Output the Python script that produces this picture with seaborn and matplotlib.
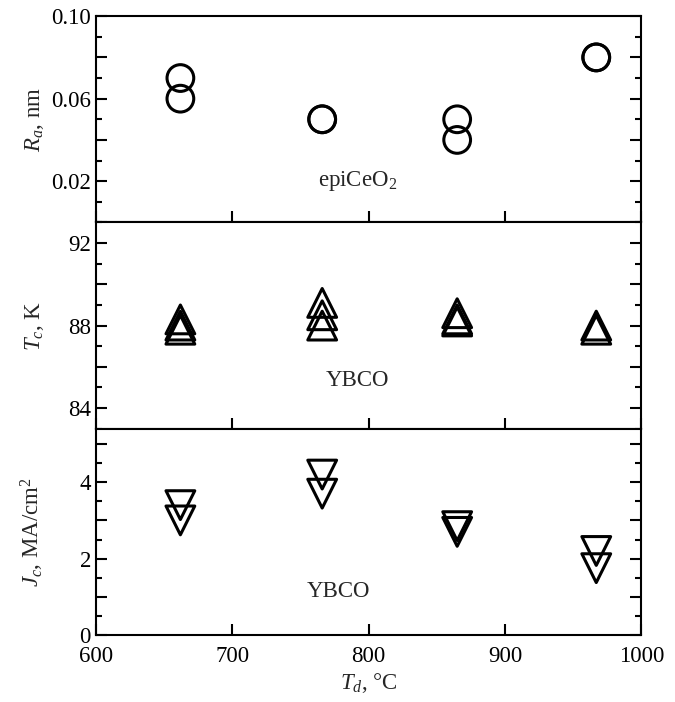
import numpy as np
import pandas as pd
import matplotlib
matplotlib.use('Agg')
import matplotlib.pyplot as plt
import seaborn as sns
from matplotlib.ticker import MultipleLocator, FuncFormatter

# Data
td_ra = [662, 662, 766, 766, 865, 865, 967, 967]
ra = [0.070, 0.060, 0.050, 0.050, 0.050, 0.040, 0.080, 0.080]

td_tc = [662, 662, 662, 766, 766, 766, 865, 865, 865, 967, 967]
tc = [88.3, 88.0, 87.8, 89.1, 88.5, 88.0, 88.6, 88.3, 88.2, 88.0, 87.8]

td_jc = [662, 662, 766, 766, 865, 865, 967, 967]
jc = [3.4, 3.0, 4.2, 3.7, 2.85, 2.7, 2.2, 1.75]

sns.set_style('ticks')
plt.rcParams['font.family'] = ['Liberation Serif', 'DejaVu Serif']
plt.rcParams['mathtext.fontset'] = 'custom'
plt.rcParams['mathtext.rm'] = 'Liberation Serif'
plt.rcParams['mathtext.it'] = 'Liberation Serif:italic'
plt.rcParams['font.size'] = 16.5

fig, axes = plt.subplots(3, 1, figsize=(6.75, 7.02), dpi=100, sharex=True,
                         gridspec_kw={'hspace': 0})
fig.subplots_adjust(left=0.142, right=0.95, top=0.977, bottom=0.0954)

kw = dict(facecolors='none', edgecolors='black', linewidths=2.2, legend=False)
sns.scatterplot(x=td_ra, y=ra, ax=axes[0], marker='o', s=370, **kw)
sns.scatterplot(x=td_tc, y=tc, ax=axes[1], marker='^', s=430, **kw)
sns.scatterplot(x=td_jc, y=jc, ax=axes[2], marker='v', s=430, **kw)

axes[0].set_ylim(0, 0.10)
axes[0].yaxis.set_major_locator(MultipleLocator(0.02))
axes[0].yaxis.set_minor_locator(MultipleLocator(0.01))
axes[0].yaxis.set_major_formatter(FuncFormatter(
    lambda v, p: f'{v:.2f}' if round(v * 100) % 4 == 2 else ''))
axes[0].set_ylabel('$R_a$, nm')
axes[0].text(792, 0.02, 'epiCeO$_2$', ha='center', va='center')

axes[1].set_ylim(83, 93)
axes[1].yaxis.set_major_locator(MultipleLocator(2))
axes[1].yaxis.set_minor_locator(MultipleLocator(1))
axes[1].yaxis.set_major_formatter(FuncFormatter(
    lambda v, p: f'{v:.0f}' if round(v) % 4 == 0 else ''))
axes[1].set_ylabel('$T_c$, K')
axes[1].text(792, 85.35, 'YBCO', ha='center', va='center')

axes[2].set_ylim(0, 5.4)
axes[2].yaxis.set_major_locator(MultipleLocator(1))
axes[2].yaxis.set_minor_locator(MultipleLocator(0.5))
axes[2].yaxis.set_major_formatter(FuncFormatter(
    lambda v, p: f'{v:.0f}' if round(v) % 2 == 0 else ''))
axes[2].set_ylabel('$J_c$, MA/cm$^2$')
axes[2].text(778, 1.15, 'YBCO', ha='center', va='center')

axes[2].set_xlim(600, 1000)
axes[2].xaxis.set_major_locator(MultipleLocator(100))
axes[2].set_xlabel('$T_d$, °C', labelpad=3)

for ax in axes:
    for sp in ax.spines.values():
        sp.set_linewidth(1.5)
        sp.set_color('black')
    ax.tick_params(axis='y', which='both', direction='in', left=True, right=True,
                   width=1.5, colors='black', labelsize=16.5)
    ax.tick_params(axis='y', which='major', length=8)
    ax.tick_params(axis='y', which='minor', length=4)
    ax.tick_params(axis='x', which='both', direction='in', bottom=True, top=False,
                   width=1.5, length=8, colors='black', labelsize=16.5, pad=8)

fig.align_ylabels(axes)
fig.savefig('out.png', dpi=100)
